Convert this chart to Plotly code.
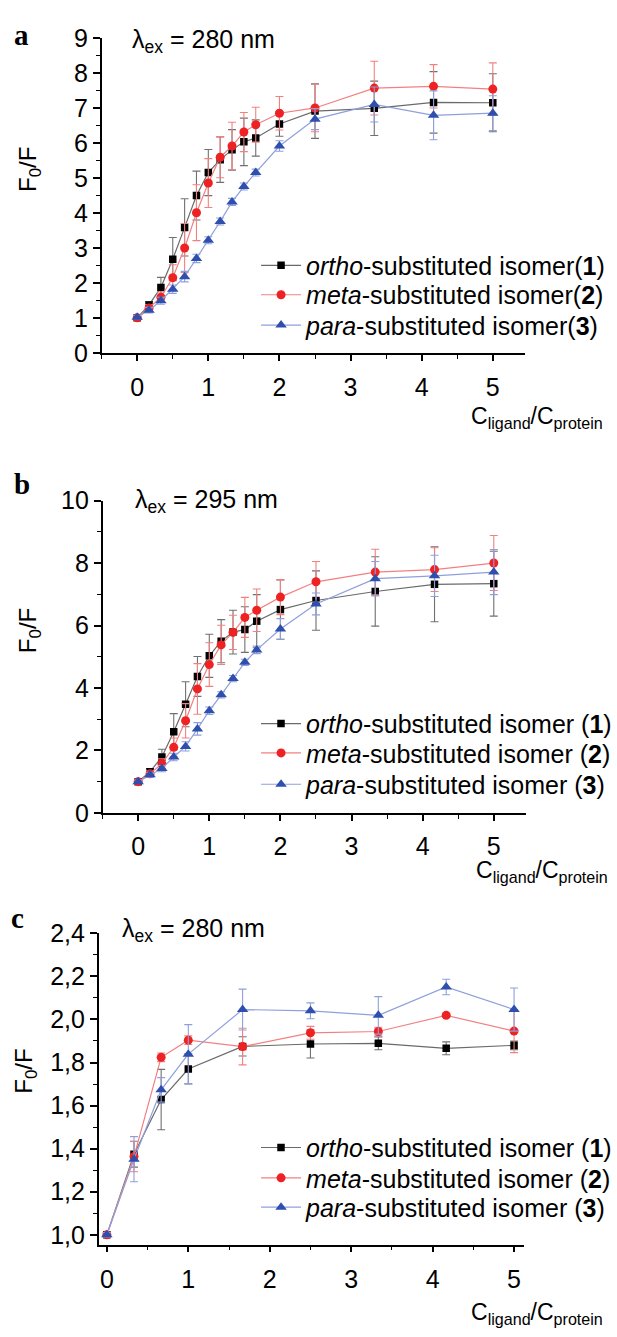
import plotly.graph_objects as go

# ---------------- data ----------------
x_ab = [0, 1/6, 1/3, 0.5, 2/3, 5/6, 1, 7/6, 4/3, 1.5, 5/3, 2, 2.5, 10/3, 25/6, 5]
x_c = [0, 1/3, 2/3, 1, 5/3, 2.5, 10/3, 25/6, 5]

ortho_a = [1.0, 1.37, 1.87, 2.68, 3.59, 4.50, 5.16, 5.53, 5.81, 6.04, 6.15, 6.55, 6.92, 7.00, 7.17, 7.16]
meta_a = [1.0, 1.28, 1.59, 2.15, 3.00, 4.01, 4.86, 5.60, 5.92, 6.32, 6.53, 6.86, 7.01, 7.58, 7.63, 7.55]
para_a = [1.02, 1.22, 1.49, 1.82, 2.18, 2.70, 3.22, 3.76, 4.32, 4.76, 5.16, 5.92, 6.69, 7.11, 6.80, 6.86]
ortho_a_err = [0.05, 0.1, 0.29, 0.62, 0.82, 0.70, 0.66, 0.65, 0.58, 0.68, 0.52, 0.35, 0.78, 0.78, 0.88, 0.83]
meta_a_err = [0.05, 0.1, 0.15, 0.37, 0.70, 0.80, 0.70, 0.59, 0.68, 0.56, 0.50, 0.48, 0.68, 0.77, 0.62, 0.75]
para_a_err = [0.05, 0.08, 0.1, 0.12, 0.15, 0.12, 0.1, 0.1, 0.1, 0.1, 0.1, 0.15, 0.3, 0.5, 0.7, 0.5]

ortho_b = [1.0, 1.32, 1.79, 2.60, 3.48, 4.37, 5.03, 5.50, 5.79, 5.87, 6.14, 6.51, 6.80, 7.09, 7.32, 7.34]
meta_b = [1.0, 1.25, 1.58, 2.10, 2.95, 3.97, 4.75, 5.38, 5.78, 6.26, 6.49, 6.91, 7.40, 7.71, 7.79, 8.00]
para_b = [1.0, 1.22, 1.42, 1.79, 2.13, 2.69, 3.27, 3.78, 4.30, 4.82, 5.22, 5.89, 6.69, 7.50, 7.59, 7.71]
ortho_b_err = [0.05, 0.1, 0.25, 0.58, 0.72, 0.64, 0.69, 0.69, 0.70, 0.73, 0.85, 0.95, 0.95, 1.11, 1.20, 1.04]
meta_b_err = [0.05, 0.1, 0.15, 0.30, 0.55, 0.81, 0.70, 0.63, 0.55, 0.64, 0.68, 0.56, 0.65, 0.73, 0.70, 0.88]
para_b_err = [0.05, 0.08, 0.1, 0.12, 0.15, 0.2, 0.12, 0.1, 0.1, 0.1, 0.12, 0.33, 0.35, 0.55, 0.66, 0.72]

ortho_c = [1.0, 1.374, 1.628, 1.770, 1.875, 1.886, 1.889, 1.866, 1.880]
meta_c = [1.0, 1.363, 1.824, 1.904, 1.874, 1.938, 1.944, 2.019, 1.946]
para_c = [1.0, 1.351, 1.673, 1.839, 2.046, 2.040, 2.019, 2.151, 2.046]
ortho_c_err = [0.01, 0.06, 0.14, 0.07, 0.045, 0.065, 0.03, 0.03, 0.02]
meta_c_err = [0.01, 0.07, 0.02, 0.02, 0.085, 0.03, 0.02, 0.01, 0.1]
para_c_err = [0.01, 0.105, 0.057, 0.137, 0.095, 0.037, 0.087, 0.036, 0.1]

c_tickvals = [1.0, 1.2, 1.4, 1.6, 1.8, 2.0, 2.2, 2.4]
c_ticktext = ["1,0", "1,2", "1,4", "1,6", "1,8", "2,0", "2,2", "2,4"]

names_a = ["<i>ortho</i>-substituted isomer(<b>1</b>)",
           "<i>meta</i>-substituted isomer(<b>2</b>)",
           "<i>para</i>-substituted isomer(<b>3</b>)"]
names_bc = ["<i>ortho</i>-substituted isomer (<b>1</b>)",
            "<i>meta</i>-substituted isomer (<b>2</b>)",
            "<i>para</i>-substituted isomer (<b>3</b>)"]

# ---------------- styles ----------------
W, H = 617, 1337
FONT = "Liberation Sans, Arial, sans-serif"
SERIF = "Liberation Serif, Times New Roman, serif"
styles = [
    dict(sym="square", size=7.5, mcol="#000000", lcol="#6a6a6a", ecol="#707070"),
    dict(sym="circle", size=9, mcol="#ee2222", lcol="#f38080", ecol="#f38080"),
    dict(sym="triangle-up", size=10, mcol="#2f4fae", lcol="#8f9fdc", ecol="#8f9fdc"),
]

def px(v):
    return v / W

def py(v):
    return 1 - v / H

fig = go.Figure()

# legend row centres (pixels) for each panel
panels = [
    dict(x=x_ab, ys=[ortho_a, meta_a, para_a], errs=[ortho_a_err, meta_a_err, para_a_err],
         names=names_a, xa="x", ya="y", rows=[257, 287, 318]),
    dict(x=x_ab, ys=[ortho_b, meta_b, para_b], errs=[ortho_b_err, meta_b_err, para_b_err],
         names=names_bc, xa="x2", ya="y2", rows=[725, 755, 787]),
    dict(x=x_c, ys=[ortho_c, meta_c, para_c], errs=[ortho_c_err, meta_c_err, para_c_err],
         names=names_bc, xa="x3", ya="y3", rows=[1158, 1189, 1219]),
]

legends = {}
k = 0
for p in panels:
    for y, e, n, s, row in zip(p["ys"], p["errs"], p["names"], styles, p["rows"]):
        k += 1
        lname = "legend" if k == 1 else f"legend{k}"
        legends[lname] = dict(x=px(262), y=py(row), xanchor="left", yanchor="middle",
                              bgcolor="rgba(0,0,0,0)", borderwidth=0, itemwidth=40,
                              font=dict(family=FONT, size=25, color="black"))
        fig.add_trace(go.Scatter(
            x=p["x"], y=y, name=n, mode="lines+markers",
            xaxis=p["xa"], yaxis=p["ya"], legend=lname,
            line=dict(color=s["lcol"], width=1.2),
            marker=dict(symbol=s["sym"], size=s["size"], color=s["mcol"], line=dict(width=0)),
            error_y=dict(type="data", array=e, visible=True, color=s["ecol"], thickness=1.1, width=4),
        ))

axis_common = dict(showline=True, linecolor="black", linewidth=1.5, ticks="outside",
                   tickwidth=1.5, tickcolor="black", showgrid=False, zeroline=False,
                   tickfont=dict(family=FONT, size=25, color="black"), mirror=False)
minor_x = dict(dtick=0.5, ticks="outside", ticklen=4, tickcolor="black", tickwidth=1.2)

fig.update_layout(
    width=W, height=H, autosize=False,
    margin=dict(l=0, r=0, t=0, b=0),
    paper_bgcolor="white", plot_bgcolor="white",
    showlegend=True,
    font=dict(family=FONT, color="black"),
    xaxis=dict(domain=[px(104), px(537)], range=[-0.5, 5.45], dtick=1, anchor="y",
               ticklen=6, ticklabelstandoff=5, minor=minor_x, **axis_common),
    yaxis=dict(domain=[py(346), py(25)], range=[0, 9], dtick=1, anchor="x", ticklen=7,
               minor=dict(dtick=0.5, ticks="outside", ticklen=4, tickcolor="black", tickwidth=1.2),
               **axis_common),
    xaxis2=dict(domain=[px(105), px(538)], range=[-0.5, 5.45], dtick=1, anchor="y2",
                ticklen=6, ticklabelstandoff=4, minor=minor_x, **axis_common),
    yaxis2=dict(domain=[py(816), py(497)], range=[0, 10], dtick=2, anchor="x2", ticklen=7,
                minor=dict(dtick=1, ticks="outside", ticklen=4, tickcolor="black", tickwidth=1.2),
                **axis_common),
    xaxis3=dict(domain=[px(101), px(536)], range=[-0.1, 5.12], dtick=1, anchor="y3",
                ticklen=6, ticklabelstandoff=6, minor=minor_x, **axis_common),
    yaxis3=dict(domain=[py(1257), py(939)], range=[0.954, 2.4], tickvals=c_tickvals,
                ticktext=c_ticktext, anchor="x3", ticklen=7,
                minor=dict(dtick=0.1, ticks="outside", ticklen=4, tickcolor="black", tickwidth=1.2),
                **axis_common),
    **legends,
)

ann = []
def add_text(text, x, y, size, family=FONT, xanchor="left", yanchor="middle", angle=0):
    ann.append(dict(text=text, x=px(x), y=py(y), xref="paper", yref="paper",
                    xanchor=xanchor, yanchor=yanchor, showarrow=False, textangle=angle,
                    font=dict(family=family, size=size, color="black")))

# panel letters
add_text("<b>a</b>", 22, 21, 29, family=SERIF, xanchor="center")
add_text("<b>b</b>", 22, 480, 29, family=SERIF, xanchor="center")
add_text("<b>c</b>", 18, 923, 29, family=SERIF, xanchor="center")
# excitation wavelength
add_text("λ<sub>ex</sub> = 280 nm", 133, 28, 25)
add_text("λ<sub>ex</sub> = 295 nm", 136, 497, 25)
add_text("λ<sub>ex</sub> = 280 nm", 123, 936, 25)
# y titles
add_text("F<sub>0</sub>/F", 30, 159, 24, xanchor="center", angle=-90)
add_text("F<sub>0</sub>/F", 30, 630, 24, xanchor="center", angle=-90)
add_text("F<sub>0</sub>/F", 26, 1080, 24, xanchor="center", angle=-90)
# x titles
add_text("C<sub>ligand</sub>/C<sub>protein</sub>", 480, 412, 23)
add_text("C<sub>ligand</sub>/C<sub>protein</sub>", 485, 876, 23)
add_text("C<sub>ligand</sub>/C<sub>protein</sub>", 480, 1327, 23)

fig.update_layout(annotations=ann)

fig.write_html("out.html", config={"displayModeBar": False},
               post_script="document.body.style.margin='0';document.body.style.overflow='hidden';")
